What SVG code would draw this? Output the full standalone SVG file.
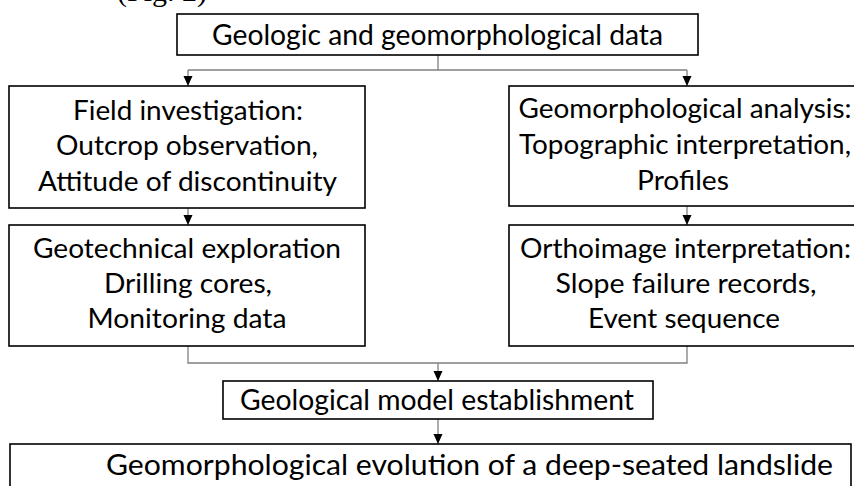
<svg xmlns="http://www.w3.org/2000/svg" width="854" height="486" viewBox="0 0 854 486">
<style>
.box{fill:#fff;stroke:#000;stroke-width:1.6}
.t{font-family:Lato,"Noto Sans",sans-serif;font-size:27px;fill:#000;text-anchor:middle}
.t1{font-family:Lato,"Noto Sans",sans-serif;font-size:28px;fill:#000;text-anchor:middle}
.c{fill:none;stroke:#808080;stroke-width:1.3}
.a{fill:none;stroke:#808080;stroke-width:1.3;marker-end:url(#ah)}
</style>
<defs>
<marker id="ah" markerUnits="userSpaceOnUse" markerWidth="10" markerHeight="10" viewBox="0 0 10 10" refX="10" refY="5" orient="auto">
<path d="M0,0.5 L10,5 L0,9.5 z" fill="#000"/>
</marker>
</defs>
<rect width="854" height="486" fill="#fff"/>
<text x="117" y="0.5" style="font-family:'Liberation Serif',serif;font-size:30px">(Fig. 2)</text>
<g id="connectors">
<path class="c" d="M438,55 V70 M188,70 H687"/>
<path class="a" d="M188,70 V86"/>
<path class="a" d="M687,70 V86"/>
<path class="a" d="M188,208 V225"/>
<path class="a" d="M687,206 V225"/>
<path class="c" d="M188,346 V363 H687 V346"/>
<path class="a" d="M438,363 V381"/>
<path class="a" d="M438,419 V444"/>
</g>
<g id="n-data">
<rect class="box" x="177" y="14" width="521" height="41"/>
<text class="t1" x="437.5" y="45" textLength="451" lengthAdjust="spacingAndGlyphs">Geologic and geomorphological data</text>
</g>
<g id="n-field">
<rect class="box" x="9" y="86" width="356" height="122"/>
<text class="t" x="188" y="120" textLength="230" lengthAdjust="spacingAndGlyphs">Field investigation:</text>
<text class="t" x="187" y="155" textLength="262" lengthAdjust="spacingAndGlyphs">Outcrop observation,</text>
<text class="t" x="187.5" y="191" textLength="299" lengthAdjust="spacingAndGlyphs">Attitude of discontinuity</text>
</g>
<g id="n-geomorph">
<rect class="box" x="509" y="86" width="360" height="120"/>
<text class="t" x="685" y="118" textLength="333" lengthAdjust="spacingAndGlyphs">Geomorphological analysis:</text>
<text class="t" x="685" y="154" textLength="332" lengthAdjust="spacingAndGlyphs">Topographic interpretation,</text>
<text class="t" x="683" y="190" textLength="92" lengthAdjust="spacingAndGlyphs">Profiles</text>
</g>
<g id="n-geotech">
<rect class="box" x="9" y="225" width="356" height="121"/>
<text class="t" x="187" y="258" textLength="308" lengthAdjust="spacingAndGlyphs">Geotechnical exploration</text>
<text class="t" x="188" y="293" textLength="168" lengthAdjust="spacingAndGlyphs">Drilling cores,</text>
<text class="t" x="187" y="328" textLength="199" lengthAdjust="spacingAndGlyphs">Monitoring data</text>
</g>
<g id="n-ortho">
<rect class="box" x="509" y="225" width="360" height="121"/>
<text class="t" x="685.5" y="258" textLength="331" lengthAdjust="spacingAndGlyphs">Orthoimage interpretation:</text>
<text class="t" x="686" y="293" textLength="261" lengthAdjust="spacingAndGlyphs">Slope failure records,</text>
<text class="t" x="684" y="328" textLength="192" lengthAdjust="spacingAndGlyphs">Event sequence</text>
</g>
<g id="n-model">
<rect class="box" x="223" y="381" width="430" height="38"/>
<text class="t1" x="437" y="410" textLength="394" lengthAdjust="spacingAndGlyphs">Geological model establishment</text>
</g>
<g id="n-evolution">
<rect class="box" x="10" y="444" width="841" height="50"/>
<text class="t1" x="469.5" y="475" textLength="727" lengthAdjust="spacingAndGlyphs">Geomorphological evolution of a deep-seated landslide</text>
</g>
</svg>
